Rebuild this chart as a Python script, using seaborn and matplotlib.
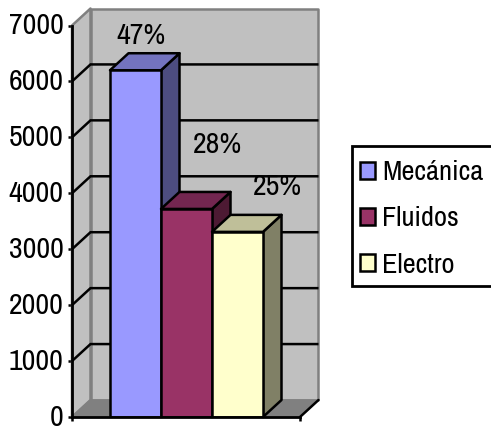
import matplotlib
matplotlib.use("Agg")
import matplotlib.pyplot as plt
from matplotlib.patches import Polygon, Patch, Rectangle
from matplotlib.transforms import ScaledTranslation
import pandas as pd
import seaborn as sns

categories = ["Mecánica", "Fluidos", "Electro"]
values = [6200, 3720, 3310]
percent_labels = ["47%", "28%", "25%"]
front_colors = ["#9999FF", "#993366", "#FFFFCC"]
top_colors = ["#7373BF", "#732650", "#BFBF99"]
side_colors = ["#4D4D80", "#4D1A33", "#808066"]
y_ticks = [0, 1000, 2000, 3000, 4000, 5000, 6000, 7000]
label_offsets_px = [(5.5, 35), (30.5, 64), (39.5, 45)]

W, H = 491, 428

sns.set_theme(style="white")
plt.rcParams["font.family"] = ["Archivo Narrow", "Liberation Sans", "DejaVu Sans"]

fig = plt.figure(figsize=(W / 100, H / 100), dpi=100, facecolor="white")
ax_left, ax_right, ax_top, ax_bottom = 72, 300, 25.5, 417
ax = fig.add_axes([ax_left / W, 1 - ax_bottom / H, (ax_right - ax_left) / W, (ax_bottom - ax_top) / H])
ax.patch.set_alpha(0)

df = pd.DataFrame({"curso": categories, "valor": values})
sns.barplot(data=df, x="curso", y="valor", hue="curso", hue_order=categories, order=categories,
            palette=front_colors, width=1.0, dodge=False, legend=False, saturation=1,
            edgecolor="black", linewidth=1.8, ax=ax)

bar_px = 51
x0 = (ax_left - 135.5) / bar_px
x1 = (ax_right - 135.5) / bar_px
ax.set_xlim(x0, x1)
ax.set_ylim(0, 7000)
dx = 18.5 / bar_px
dy = 17 / ((ax_bottom - ax_top) / 7000)
top = 7000


def poly(pts, fc, ec="none", lw=0.0, z=1):
    ax.add_patch(Polygon(pts, closed=True, facecolor=fc, edgecolor=ec, linewidth=lw,
                         zorder=z, clip_on=False, joinstyle="round"))


# Chart walls and floor
poly([(x0 + dx, dy), (x1 + dx, dy), (x1 + dx, top + dy), (x0 + dx, top + dy)], "#C0C0C0", "#808080", 1.8, 1)
poly([(x0, 0), (x0 + dx, dy), (x0 + dx, top + dy), (x0, top)], "#C0C0C0", "#808080", 1.8, 1)
poly([(x0, 0), (x1, 0), (x1 + dx, dy), (x0 + dx, dy)], "#808080", "#808080", 1.0, 1.5)

# Gridlines across the side wall and the back wall
for t in y_ticks[1:-1]:
    ax.plot([x0, x0 + dx, x1 + dx], [t, t + dy, t + dy], color="black", lw=1.8, zorder=1.6,
            clip_on=False, solid_capstyle="butt", solid_joinstyle="miter")
ax.plot([x1, x1 + dx], [0, dy], color="black", lw=1.8, zorder=1.7, clip_on=False)

# Extruded faces of every column
bars = [c[0] for c in ax.containers]
for i, bar in enumerate(bars):
    left, right = bar.get_x(), bar.get_x() + bar.get_width()
    h = bar.get_height()
    base = 3 + 2 * i
    poly([(right, 0), (right + dx, dy), (right + dx, h + dy), (right, h)], side_colors[i], "black", 1.8, base)
    poly([(left, h), (left + dx, h + dy), (right + dx, h + dy), (right, h)], top_colors[i], "black", 1.8, base)
    bar.set_zorder(base + 1)
    ax.annotate(percent_labels[i], (i, h), xytext=(label_offsets_px[i][0] * 0.72, label_offsets_px[i][1] * 0.72),
                textcoords="offset points", ha="center", va="center", fontsize=21.5, color="black", zorder=20)

for s in ["top", "right"]:
    ax.spines[s].set_visible(False)
for s in ["left", "bottom"]:
    ax.spines[s].set_color("black")
    ax.spines[s].set_linewidth(2.0)
    ax.spines[s].set_zorder(15)

ax.set_xlabel("")
ax.set_ylabel("")
ax.set_xticks([x0, x1])
ax.set_xticklabels([])
ax.set_yticks(y_ticks)
ax.set_yticklabels([str(t) for t in y_ticks], va="center_baseline")
ax.tick_params(axis="y", length=3.2, width=1.8, color="black", labelsize=21.5, pad=3, labelcolor="black", left=True)
ax.tick_params(axis="x", length=3.2, width=1.8, color="black", bottom=True)

# Lift the value labels slightly so they sit centred on their ticks
lift = ScaledTranslation(0, 2 / 100, fig.dpi_scale_trans)
for label in ax.get_yticklabels():
    label.set_transform(label.get_transform() + lift)

# Legend box runs past the right edge of the figure
fig.add_artist(Rectangle((352 / W, 1 - 286 / H), 145 / W, 140 / H, transform=fig.transFigure,
                         facecolor="white", edgecolor="black", linewidth=2.0, zorder=29))
handles = [Patch(facecolor=c, edgecolor="black", linewidth=1.8, label=n) for c, n in zip(front_colors, categories)]
leg = fig.legend(handles=handles, loc="center left", bbox_to_anchor=(352 / W, 1 - 219 / H),
                 bbox_transform=fig.transFigure, fontsize=20.5, frameon=False, borderaxespad=0,
                 borderpad=0.28, labelcolor="black", handlelength=0.53, handleheight=0.53,
                 handletextpad=0.25, labelspacing=0.74)
leg.set_zorder(30)

fig.savefig("out.png", dpi=100)
